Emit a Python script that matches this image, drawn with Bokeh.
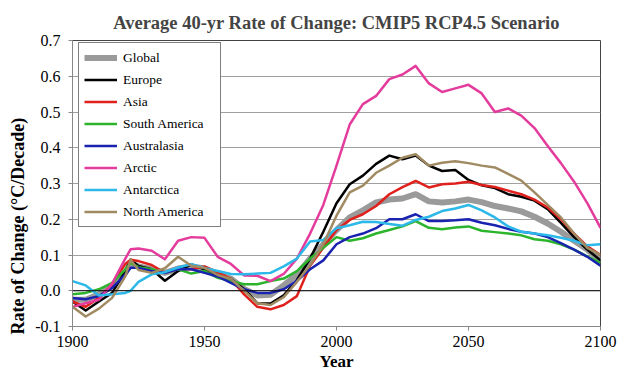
from bokeh.plotting import figure
from bokeh.models import Range1d, FixedTicker, NumeralTickFormatter, Span, Legend, LegendItem, Title
from bokeh.embed import file_html
from bokeh.resources import INLINE

years = [1900, 1905, 1910, 1915, 1920, 1922, 1925, 1930, 1935, 1940, 1945, 1950, 1955, 1960,
         1965, 1970, 1975, 1980, 1985, 1990, 1995, 2000, 2005, 2010, 2015, 2020, 2025, 2030,
         2035, 2040, 2045, 2050, 2055, 2060, 2065, 2070, 2075, 2080, 2085, 2090, 2095, 2100]

global_vals = [-0.025, -0.025, -0.01, 0.013, 0.05, 0.078, 0.068, 0.06, 0.05, 0.062, 0.068, 0.062, 0.045, 0.034,
               0.005, -0.013, -0.011, 0.015, 0.045, 0.09, 0.13, 0.17, 0.205, 0.225, 0.247, 0.255, 0.258, 0.27,
               0.25, 0.247, 0.25, 0.255, 0.248, 0.237, 0.23, 0.222, 0.207, 0.188, 0.165, 0.14, 0.115, 0.085]
europe = [-0.03, -0.055, -0.03, -0.006, 0.055, 0.087, 0.069, 0.06, 0.028, 0.055, 0.074, 0.06, 0.044, 0.033,
          0.005, -0.035, -0.036, -0.013, 0.03, 0.09, 0.165, 0.245, 0.298, 0.322, 0.355, 0.378, 0.368, 0.378,
          0.35, 0.335, 0.338, 0.31, 0.295, 0.287, 0.27, 0.263, 0.252, 0.228, 0.19, 0.15, 0.115, 0.085]
asia = [-0.03, -0.045, -0.02, 0.018, 0.075, 0.087, 0.083, 0.072, 0.05, 0.06, 0.06, 0.068, 0.052, 0.033,
        -0.01, -0.045, -0.052, -0.04, -0.015, 0.07, 0.12, 0.17, 0.198, 0.214, 0.237, 0.27, 0.29, 0.307,
        0.289, 0.298, 0.3, 0.305, 0.296, 0.29, 0.28, 0.27, 0.255, 0.233, 0.2, 0.16, 0.124, 0.1]
south_america = [-0.01, -0.006, 0.004, 0.022, 0.06, 0.078, 0.066, 0.06, 0.05, 0.06, 0.048, 0.055, 0.036, 0.027,
                 0.018, 0.018, 0.027, 0.034, 0.055, 0.09, 0.12, 0.15, 0.14, 0.147, 0.16, 0.17, 0.18, 0.195,
                 0.176, 0.172, 0.177, 0.18, 0.168, 0.164, 0.16, 0.155, 0.144, 0.14, 0.13, 0.115, 0.096, 0.078]
australasia = [-0.02, -0.024, -0.015, 0.008, 0.045, 0.064, 0.064, 0.055, 0.05, 0.06, 0.06, 0.05, 0.04, 0.022,
               0.004, -0.006, -0.006, 0.004, 0.028, 0.06, 0.085, 0.13, 0.15, 0.16, 0.175, 0.2, 0.2, 0.214,
               0.195, 0.195, 0.197, 0.2, 0.19, 0.183, 0.173, 0.165, 0.16, 0.15, 0.133, 0.115, 0.095, 0.07]
arctic = [-0.045, -0.035, -0.025, 0.02, 0.09, 0.116, 0.118, 0.112, 0.088, 0.14, 0.15, 0.148, 0.095, 0.075,
          0.043, 0.042, 0.027, 0.047, 0.09, 0.16, 0.24, 0.35, 0.465, 0.522, 0.545, 0.592, 0.605, 0.629,
          0.58, 0.556, 0.566, 0.576, 0.552, 0.5, 0.51, 0.49, 0.455, 0.405, 0.357, 0.305, 0.245, 0.176]
antarctica = [0.027, 0.015, -0.013, -0.01, -0.006, 0.0, 0.025, 0.046, 0.052, 0.065, 0.074, 0.064, 0.055, 0.047,
              0.046, 0.048, 0.05, 0.068, 0.09, 0.138, 0.142, 0.175, 0.183, 0.193, 0.192, 0.187, 0.182, 0.198,
              0.207, 0.223, 0.23, 0.24, 0.225, 0.205, 0.18, 0.165, 0.16, 0.155, 0.148, 0.14, 0.127, 0.13]
north_america = [-0.045, -0.072, -0.05, -0.02, 0.04, 0.087, 0.058, 0.05, 0.063, 0.095, 0.07, 0.064, 0.044, 0.033,
                 0.0, -0.035, -0.04, -0.018, 0.025, 0.072, 0.13, 0.21, 0.275, 0.294, 0.33, 0.35, 0.372, 0.382,
                 0.35, 0.358, 0.362, 0.357, 0.35, 0.345, 0.327, 0.308, 0.275, 0.24, 0.205, 0.16, 0.12, 0.1]

series_names = ["Global", "Europe", "Asia", "South America", "Australasia", "Arctic", "Antarctica", "North America"]
series_vals = [global_vals, europe, asia, south_america, australasia, arctic, antarctica, north_america]
series_colors = ["#9a9a9a", "#000000", "#e0201c", "#2cb52c", "#1a22b0", "#e43c9c", "#2cb8e8", "#a08a62"]
series_widths = [6, 2.5, 2.5, 2.5, 2.5, 2.5, 2.5, 2.5]

x_ticks = [1900, 1950, 2000, 2050, 2100]
y_ticks = [-0.1, 0.0, 0.1, 0.2, 0.3, 0.4, 0.5, 0.6, 0.7]

FONT = "Liberation Serif"

p = figure(width=622, height=375, output_backend="svg", toolbar_location=None,
           x_range=Range1d(1900, 2100), y_range=Range1d(-0.1, 0.7),
           min_border_left=72, min_border_right=22, min_border_top=40, min_border_bottom=49,
           title="Average 40-yr Rate of Change: CMIP5 RCP4.5 Scenario")

p.title.align = "center"
p.title.text_font = FONT
p.title.text_font_size = "18.5px"
p.title.text_font_style = "bold"
p.title.standoff = 16

p.xgrid.grid_line_color = None
p.ygrid.grid_line_color = "#a0a0a0"
p.ygrid.grid_line_width = 1
p.ygrid.ticker = FixedTicker(ticks=y_ticks)

p.outline_line_color = "#444444"
p.outline_line_width = 1

p.xaxis.ticker = FixedTicker(ticks=x_ticks)
p.yaxis.ticker = FixedTicker(ticks=y_ticks)
p.yaxis.formatter = NumeralTickFormatter(format="0.0")
for ax in (p.xaxis[0], p.yaxis[0]):
    ax.axis_line_color = "#888888"
    ax.major_tick_line_color = "#888888"
    ax.major_tick_out = 4
    ax.major_tick_in = 0
    ax.minor_tick_line_color = None
    ax.major_label_text_font = FONT
    ax.major_label_text_font_size = "16px"
    ax.major_label_text_color = "black"
    ax.axis_label_text_font = FONT
    ax.axis_label_text_font_size = "17px"
    ax.axis_label_text_font_style = "bold"
    ax.axis_label_text_color = "black"
p.xaxis.axis_label = "Year"
p.xaxis.major_label_standoff = 5
p.xaxis.axis_label_standoff = 2
p.yaxis.major_label_standoff = 8

ylab = Title(text="Rate of Change (°C/Decade)", align="left", offset=-8, standoff=9,
             text_font=FONT, text_font_size="18px", text_font_style="bold", text_color="black")
p.add_layout(ylab, "left")

zero = Span(location=0.0, dimension="width", line_color="black", line_width=1.2)
p.add_layout(zero)

items = []
for name, vals, col, w in zip(series_names, series_vals, series_colors, series_widths):
    r = p.line(years, vals, line_color=col, line_width=w, line_join="round")
    items.append(LegendItem(label=name, renderers=[r]))

legend = Legend(items=items, location=(6, 99))
legend.label_text_font = FONT
legend.label_text_font_size = "13.5px"
legend.label_text_color = "black"
legend.glyph_width = 33
legend.glyph_height = 19
legend.label_height = 19
legend.label_width = 92
legend.label_standoff = 6
legend.spacing = 3
legend.padding = 5
legend.margin = 0
legend.border_line_color = "black"
legend.border_line_width = 1
legend.background_fill_alpha = 1
p.add_layout(legend, "center")

open("out.html", "w").write(file_html(p, INLINE))
